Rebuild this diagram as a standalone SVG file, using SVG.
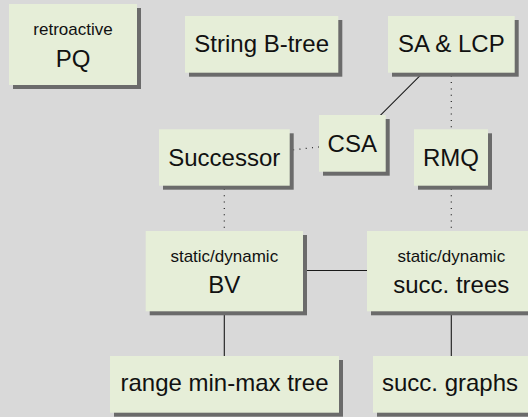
<svg xmlns="http://www.w3.org/2000/svg" width="528" height="417" viewBox="0 0 528 417">
<style>
.bg{fill:#d9d9d9}
.sh{fill:#6b6b6b}
.bx{fill:#e6eed8}
.t{font-family:"Liberation Sans",Arial,sans-serif;fill:#111;text-anchor:middle}
.big{font-size:24px}
.small{font-size:17px}
.solid{stroke:#1a1a1a;stroke-width:1.1;fill:none}
.dot{stroke:#222;stroke-width:1.2;stroke-dasharray:1 5.3;fill:none}
</style>
<rect class="bg" x="0" y="0" width="528" height="417"/>
<g id="connectors">
<line class="solid" x1="451.3" y1="44.3" x2="352.3" y2="143.3"/>
<line class="dot" x1="451.3" y1="44.3" x2="451.3" y2="157.5"/>
<line class="dot" x1="451.3" y1="157.5" x2="451.3" y2="271"/>
<line class="dot" x1="224.3" y1="157.5" x2="352.3" y2="143.3"/>
<line class="dot" x1="224.3" y1="157.5" x2="224.3" y2="271"/>
<line class="solid" x1="224.3" y1="270.5" x2="451.3" y2="270.5"/>
<line class="solid" x1="224.3" y1="271" x2="224.3" y2="384"/>
<line class="solid" x1="451.3" y1="271" x2="451.3" y2="384"/>
</g>
<g id="retroactive-pq">
<rect class="sh" x="13" y="8" width="128" height="81"/>
<rect class="bx" x="9" y="4" width="128" height="81"/>
<text class="t small" x="73" y="35">retroactive</text>
<text class="t big" x="73" y="66.7">PQ</text>
</g>
<g id="string-btree">
<rect class="sh" x="189" y="20" width="153.3" height="56.7"/>
<rect class="bx" x="185" y="16" width="153.3" height="56.7"/>
<text class="t big" x="261.7" y="52">String B-tree</text>
</g>
<g id="sa-lcp">
<rect class="sh" x="392" y="20" width="126.7" height="56.7"/>
<rect class="bx" x="388" y="16" width="126.7" height="56.7"/>
<text class="t big" x="451.3" y="52">SA &amp; LCP</text>
</g>
<g id="csa">
<rect class="sh" x="323" y="119" width="66.7" height="56.7"/>
<rect class="bx" x="319" y="115" width="66.7" height="56.7"/>
<text class="t big" x="352.3" y="151.5">CSA</text>
</g>
<g id="rmq">
<rect class="sh" x="418" y="133.3" width="74" height="56.4"/>
<rect class="bx" x="414" y="129.3" width="74" height="56.4"/>
<text class="t big" x="451" y="165.7">RMQ</text>
</g>
<g id="successor">
<rect class="sh" x="163" y="133.3" width="130.7" height="56.4"/>
<rect class="bx" x="159" y="129.3" width="130.7" height="56.4"/>
<text class="t big" x="224.3" y="165.7">Successor</text>
</g>
<g id="bv">
<rect class="sh" x="149.7" y="235" width="157.3" height="80.3"/>
<rect class="bx" x="145.7" y="231" width="157.3" height="80.3"/>
<text class="t small" x="224.3" y="262">static/dynamic</text>
<text class="t big" x="224.3" y="293">BV</text>
</g>
<g id="succ-trees">
<rect class="sh" x="371" y="235" width="168" height="80.3"/>
<rect class="bx" x="367" y="231" width="168" height="80.3"/>
<text class="t small" x="451.3" y="262">static/dynamic</text>
<text class="t big" x="451.3" y="293">succ. trees</text>
</g>
<g id="range-min-max-tree">
<rect class="sh" x="114" y="360" width="229" height="56.7"/>
<rect class="bx" x="110" y="356" width="229" height="56.7"/>
<text class="t big" x="224.5" y="391">range min-max tree</text>
</g>
<g id="succ-graphs">
<rect class="sh" x="377" y="360" width="156" height="56.7"/>
<rect class="bx" x="373" y="356" width="156" height="56.7"/>
<text class="t big" x="450" y="391">succ. graphs</text>
</g>
</svg>
